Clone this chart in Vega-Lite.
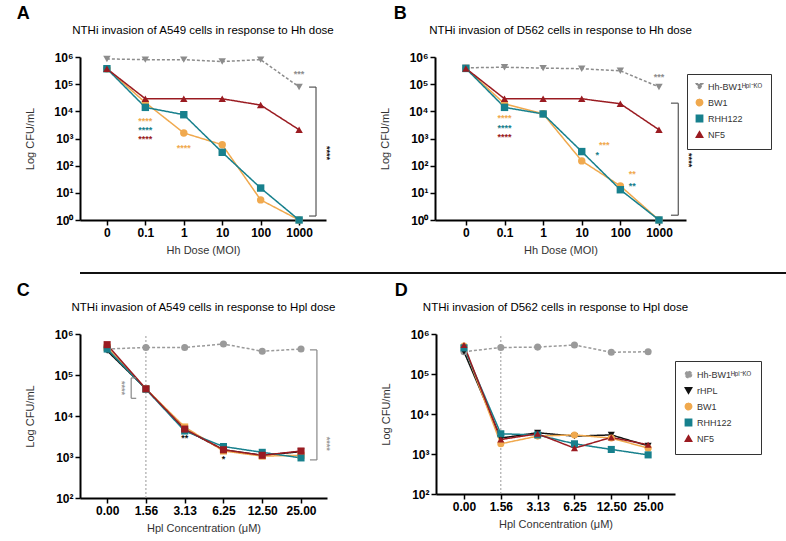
{
"$schema": "https://vega.github.io/schema/vega-lite/v6.json",
"padding": {"left": 16, "top": 4, "right": 5, "bottom": 2},
"config": {
  "view": {"stroke": null},
  "font": "Liberation Sans",
  "axis": {"domainColor": "#000", "domainWidth": 2, "tickColor": "#000", "tickWidth": 1.5, "tickSize": 5, "labelFontSize": 12, "labelFontWeight": "bold", "labelColor": "#000", "titleFontSize": 11, "titleFontWeight": "normal", "titleColor": "#333", "grid": false},
  "title": {"color": "#000"}
},
"resolve": {"scale": {"color": "independent", "shape": "independent", "strokeDash": "independent", "x": "independent", "y": "independent"}, "legend": {"color": "independent", "shape": "independent", "strokeDash": "independent"}},
"datasets": {
  "A": [
    {"s":"KO","i":0,"v":850000},{"s":"KO","i":1,"v":800000},{"s":"KO","i":2,"v":800000},{"s":"KO","i":3,"v":680000},{"s":"KO","i":4,"v":800000},{"s":"KO","i":5,"v":79000},
    {"s":"BW1","i":0,"v":370000},{"s":"BW1","i":1,"v":21000},{"s":"BW1","i":2,"v":1600},{"s":"BW1","i":3,"v":590},{"s":"BW1","i":4,"v":5.5},{"s":"BW1","i":5,"v":1},
    {"s":"RHH122","i":0,"v":370000},{"s":"RHH122","i":1,"v":14000},{"s":"RHH122","i":2,"v":7500},{"s":"RHH122","i":3,"v":310},{"s":"RHH122","i":4,"v":15},{"s":"RHH122","i":5,"v":1},
    {"s":"NF5","i":0,"v":370000},{"s":"NF5","i":1,"v":29000},{"s":"NF5","i":2,"v":29000},{"s":"NF5","i":3,"v":29000},{"s":"NF5","i":4,"v":17000},{"s":"NF5","i":5,"v":2100}
  ],
  "Astars": [
    {"t":"****","i":1,"v":4300,"s":"BW1"},{"t":"****","i":1,"v":2000,"s":"RHH122"},{"t":"****","i":1,"v":950,"s":"NF5"},
    {"t":"****","i":2,"v":450,"s":"BW1"},{"t":"***","i":5,"v":240000,"s":"KO"}
  ],
  "Arot": [{"t":"****","i":5.72,"v":290,"s":"rHPL"}],
  "Abr": [
    {"x1":5.44,"x2":5.44,"y1":78000,"y2":1.4},{"x1":5.26,"x2":5.44,"y1":78000,"y2":78000},{"x1":5.26,"x2":5.44,"y1":1.4,"y2":1.4}
  ],
  "B": [
    {"s":"KO","i":0,"v":400000},{"s":"KO","i":1,"v":420000},{"s":"KO","i":2,"v":390000},{"s":"KO","i":3,"v":370000},{"s":"KO","i":4,"v":310000},{"s":"KO","i":5,"v":79000},
    {"s":"BW1","i":0,"v":380000},{"s":"BW1","i":1,"v":19000},{"s":"BW1","i":2,"v":8100},{"s":"BW1","i":3,"v":150},{"s":"BW1","i":4,"v":18},{"s":"BW1","i":5,"v":1},
    {"s":"RHH122","i":0,"v":380000},{"s":"RHH122","i":1,"v":14000},{"s":"RHH122","i":2,"v":8000},{"s":"RHH122","i":3,"v":330},{"s":"RHH122","i":4,"v":13},{"s":"RHH122","i":5,"v":1},
    {"s":"NF5","i":0,"v":380000},{"s":"NF5","i":1,"v":29000},{"s":"NF5","i":2,"v":29000},{"s":"NF5","i":3,"v":29000},{"s":"NF5","i":4,"v":19000},{"s":"NF5","i":5,"v":2100}
  ],
  "Bstars": [
    {"t":"****","i":1,"v":5600,"s":"BW1"},{"t":"****","i":1,"v":2500,"s":"RHH122"},{"t":"****","i":1,"v":1100,"s":"NF5"},
    {"t":"***","i":3.58,"v":560,"s":"BW1"},{"t":"*","i":3.4,"v":240,"s":"RHH122"},
    {"t":"**","i":4.31,"v":48,"s":"BW1"},{"t":"**","i":4.31,"v":18,"s":"RHH122"},
    {"t":"***","i":5,"v":190000,"s":"KO"}
  ],
  "Brot": [{"t":"****","i":5.78,"v":160,"s":"rHPL"}],
  "Bbr": [
    {"x1":5.5,"x2":5.5,"y1":20000,"y2":1.5},{"x1":5.31,"x2":5.5,"y1":20000,"y2":20000},{"x1":5.31,"x2":5.5,"y1":1.5,"y2":1.5}
  ],
  "C": [
    {"s":"KO","i":0,"v":430000},{"s":"KO","i":1,"v":470000},{"s":"KO","i":2,"v":470000},{"s":"KO","i":3,"v":570000},{"s":"KO","i":4,"v":380000},{"s":"KO","i":5,"v":430000},
    {"s":"rHPL","i":0,"v":390000},{"s":"rHPL","i":1,"v":46000},{"s":"rHPL","i":2,"v":4700},{"s":"rHPL","i":3,"v":1500},{"s":"rHPL","i":4,"v":1100},{"s":"rHPL","i":5,"v":1350},
    {"s":"BW1","i":0,"v":470000},{"s":"BW1","i":1,"v":46000},{"s":"BW1","i":2,"v":5400},{"s":"BW1","i":3,"v":1400},{"s":"BW1","i":4,"v":1050},{"s":"BW1","i":5,"v":1100},
    {"s":"RHH122","i":0,"v":430000},{"s":"RHH122","i":1,"v":45000},{"s":"RHH122","i":2,"v":4300},{"s":"RHH122","i":3,"v":1800},{"s":"RHH122","i":4,"v":1300},{"s":"RHH122","i":5,"v":950},
    {"s":"NF5","i":0,"v":550000},{"s":"NF5","i":1,"v":46000},{"s":"NF5","i":2,"v":4800},{"s":"NF5","i":3,"v":1500},{"s":"NF5","i":4,"v":1100},{"s":"NF5","i":5,"v":1400}
  ],
  "Cstars": [
    {"t":"**","i":2,"v":2900,"s":"rHPL"},{"t":"*","i":3,"v":900,"s":"rHPL"}
  ],
  "Crot": [{"t":"****","i":5.68,"v":2100,"s":"KO"},{"t":"****","i":0.39,"v":48000,"s":"KO"}],
  "Cbr": [
    {"x1":5.41,"x2":5.41,"y1":410000,"y2":850},{"x1":5.23,"x2":5.41,"y1":410000,"y2":410000},{"x1":5.23,"x2":5.41,"y1":850,"y2":850},
    {"x1":0.62,"x2":0.62,"y1":85000,"y2":27000},{"x1":0.62,"x2":0.75,"y1":85000,"y2":85000},{"x1":0.62,"x2":0.75,"y1":27000,"y2":27000}
  ],
  "D": [
    {"s":"KO","i":0,"v":360000},{"s":"KO","i":1,"v":460000},{"s":"KO","i":2,"v":470000},{"s":"KO","i":3,"v":530000},{"s":"KO","i":4,"v":350000},{"s":"KO","i":5,"v":360000},
    {"s":"rHPL","i":0,"v":360000},{"s":"rHPL","i":1,"v":2500},{"s":"rHPL","i":2,"v":3400},{"s":"rHPL","i":3,"v":2800},{"s":"rHPL","i":4,"v":3000},{"s":"rHPL","i":5,"v":1600},
    {"s":"BW1","i":0,"v":500000},{"s":"BW1","i":1,"v":1800},{"s":"BW1","i":2,"v":2800},{"s":"BW1","i":3,"v":3000},{"s":"BW1","i":4,"v":2500},{"s":"BW1","i":5,"v":1400},
    {"s":"RHH122","i":0,"v":450000},{"s":"RHH122","i":1,"v":3200},{"s":"RHH122","i":2,"v":3000},{"s":"RHH122","i":3,"v":1800},{"s":"RHH122","i":4,"v":1300},{"s":"RHH122","i":5,"v":950},
    {"s":"NF5","i":0,"v":530000},{"s":"NF5","i":1,"v":2300},{"s":"NF5","i":2,"v":3200},{"s":"NF5","i":3,"v":1400},{"s":"NF5","i":4,"v":2600},{"s":"NF5","i":5,"v":1700}
  ],
  "vline": [{"x1":1,"x2":1,"y1":100,"y2":1000000}],
  "sep": [{"a":0,"b":1}]
},
"vconcat": [
  {"resolve": {"scale": {"color": "independent", "shape": "independent", "strokeDash": "independent", "x": "independent", "y": "independent"}, "legend": {"color": "independent", "shape": "independent", "strokeDash": "independent"}},
   "hconcat": [
    {"title": {"text": "A", "anchor": "start", "fontSize": 18, "fontWeight": "bold", "dx": -8, "offset": 2},
     "vconcat": [{
      "title": {"text": "NTHi invasion of A549 cells in response to Hh dose", "fontSize": 11.5, "fontWeight": "normal", "offset": 15},
      "width": 246, "height": 163,
      "encoding": {
        "x": {"field": "i", "type": "quantitative", "scale": {"domain": [-0.7, 5.7]}, "axis": {"values": [0,1,2,3,4,5], "labelExpr": "['0','0.1','1','10','100','1000'][datum.value]", "title": "Hh Dose (MOI)", "titlePadding": 6}},
        "y": {"field": "v", "type": "quantitative", "scale": {"type": "log", "domain": [1, 1000000], "nice": false}, "axis": {"values": [1,10,100,1000,10000,100000,1000000], "labelExpr": "'10' + ['⁰','¹','²','³','⁴','⁵','⁶'][round(log(datum.value)/LN10)]", "title": "Log CFU/mL", "titlePadding": 18}}
      },
      "layer": [
        {"data": {"name": "A"}, "mark": {"type": "line", "strokeWidth": 1.5},
         "encoding": {"color": {"field": "s", "type": "nominal", "scale": {"domain": ["KO","rHPL","BW1","RHH122","NF5"], "range": ["#8c8c8c","#111111","#f0a94e","#17808d","#9a1b21"]}, "legend": null},
                      "strokeDash": {"field": "s", "type": "nominal", "scale": {"domain": ["KO","rHPL","BW1","RHH122","NF5"], "range": [[3,2],[1,0],[1,0],[1,0],[1,0]]}, "legend": null}}},
        {"data": {"name": "A"}, "mark": {"type": "point", "filled": true, "size": 55, "opacity": 1},
         "encoding": {"color": {"field": "s", "type": "nominal", "scale": {"domain": ["KO","rHPL","BW1","RHH122","NF5"], "range": ["#8c8c8c","#111111","#f0a94e","#17808d","#9a1b21"]}, "legend": null},
                      "shape": {"field": "s", "type": "nominal", "scale": {"domain": ["KO","rHPL","BW1","RHH122","NF5"], "range": ["triangle-down","triangle-down","circle","square","triangle-up"]}, "legend": null}}},
        {"data": {"name": "Astars"}, "mark": {"type": "text", "fontSize": 9, "fontWeight": "bold", "baseline": "middle", "letterSpacing": 1.5},
         "encoding": {"text": {"field": "t"}, "color": {"field": "s", "type": "nominal", "scale": {"domain": ["KO","rHPL","BW1","RHH122","NF5"], "range": ["#8c8c8c","#111111","#f0a94e","#17808d","#9a1b21"]}, "legend": null}}},
        {"data": {"name": "Arot"}, "mark": {"type": "text", "fontSize": 9, "fontWeight": "bold", "baseline": "middle", "angle": 90, "letterSpacing": 1.5},
         "encoding": {"text": {"field": "t"}, "color": {"field": "s", "type": "nominal", "scale": {"domain": ["KO","rHPL","BW1","RHH122","NF5"], "range": ["#8c8c8c","#111111","#f0a94e","#17808d","#9a1b21"]}, "legend": null}}},
        {"data": {"name": "Abr"}, "mark": {"type": "rule", "color": "#555", "strokeWidth": 1.2},
         "encoding": {"x": {"field": "x1", "type": "quantitative"}, "x2": {"field": "x2"}, "y": {"field": "y1", "type": "quantitative"}, "y2": {"field": "y2"}}}
      ]
    }]},
    {"title": {"text": "B", "anchor": "start", "fontSize": 18, "fontWeight": "bold", "dx": 14, "offset": 2},
     "vconcat": [{
      "title": {"text": "NTHi invasion of D562 cells in response to Hh dose", "fontSize": 11.5, "fontWeight": "normal", "offset": 15},
      "width": 251, "height": 163,
      "encoding": {
        "x": {"field": "i", "type": "quantitative", "scale": {"domain": [-0.8, 5.7]}, "axis": {"values": [0,1,2,3,4,5], "labelExpr": "['0','0.1','1','10','100','1000'][datum.value]", "title": "Hh Dose (MOI)", "titlePadding": 6}},
        "y": {"field": "v", "type": "quantitative", "scale": {"type": "log", "domain": [1, 1000000], "nice": false}, "axis": {"values": [1,10,100,1000,10000,100000,1000000], "labelExpr": "'10' + ['⁰','¹','²','³','⁴','⁵','⁶'][round(log(datum.value)/LN10)]", "title": "Log CFU/mL", "titlePadding": 18}}
      },
      "layer": [
        {"data": {"name": "B"}, "mark": {"type": "line", "strokeWidth": 1.5},
         "encoding": {"color": {"field": "s", "type": "nominal", "scale": {"domain": ["KO","rHPL","BW1","RHH122","NF5"], "range": ["#8c8c8c","#111111","#f0a94e","#17808d","#9a1b21"]}},
                      "strokeDash": {"field": "s", "type": "nominal", "scale": {"domain": ["KO","rHPL","BW1","RHH122","NF5"], "range": [[3,2],[1,0],[1,0],[1,0],[1,0]]}, "legend": null}}},
        {"data": {"name": "B"}, "mark": {"type": "point", "filled": true, "size": 55, "opacity": 1},
         "encoding": {"color": {"field": "s", "type": "nominal", "legend": {"title": null, "orient": "none", "legendX": 252, "legendY": 17, "strokeColor": "#333", "padding": 8, "labelFontSize": 9, "labelColor": "#333", "symbolSize": 40, "rowPadding": 3, "values": ["KO","BW1","RHH122","NF5"], "labelExpr": "datum.label == 'KO' ? 'Hh-BW1ᴴᵖˡ⁻ᴷᴼ' : datum.label"}},
                      "shape": {"field": "s", "type": "nominal", "scale": {"domain": ["KO","rHPL","BW1","RHH122","NF5"], "range": ["triangle-down","triangle-down","circle","square","triangle-up"]}, "legend": {"title": null, "orient": "none", "legendX": 252, "legendY": 17, "strokeColor": "#333", "padding": 8, "labelFontSize": 9, "labelColor": "#333", "symbolSize": 40, "rowPadding": 3, "values": ["KO","BW1","RHH122","NF5"], "labelExpr": "datum.label == 'KO' ? 'Hh-BW1ᴴᵖˡ⁻ᴷᴼ' : datum.label"}}}},
        {"data": {"name": "Bstars"}, "mark": {"type": "text", "fontSize": 9, "fontWeight": "bold", "baseline": "middle", "letterSpacing": 1.5},
         "encoding": {"text": {"field": "t"}, "color": {"field": "s", "type": "nominal", "scale": {"domain": ["KO","rHPL","BW1","RHH122","NF5"], "range": ["#8c8c8c","#111111","#f0a94e","#17808d","#9a1b21"]}}}},
        {"data": {"name": "Brot"}, "mark": {"type": "text", "fontSize": 9, "fontWeight": "bold", "baseline": "middle", "angle": 90, "letterSpacing": 1.5},
         "encoding": {"text": {"field": "t"}, "color": {"field": "s", "type": "nominal", "scale": {"domain": ["KO","rHPL","BW1","RHH122","NF5"], "range": ["#8c8c8c","#111111","#f0a94e","#17808d","#9a1b21"]}}}},
        {"data": {"name": "Bbr"}, "mark": {"type": "rule", "color": "#555", "strokeWidth": 1.2},
         "encoding": {"x": {"field": "x1", "type": "quantitative"}, "x2": {"field": "x2"}, "y": {"field": "y1", "type": "quantitative"}, "y2": {"field": "y2"}}}
      ]
    }]}
  ], "spacing": 44},
  {"width": 744, "height": 11, "data": {"name": "sep"}, "mark": {"type": "rule", "color": "#111", "strokeWidth": 2},
   "encoding": {"x": {"field": "a", "type": "quantitative", "scale": {"domain": [0, 1]}, "axis": null}, "x2": {"field": "b"}, "y": {"datum": 0, "type": "quantitative", "scale": {"domain": [0, 1]}, "axis": null}}},
  {"resolve": {"scale": {"color": "independent", "shape": "independent", "strokeDash": "independent", "x": "independent", "y": "independent"}, "legend": {"color": "independent", "shape": "independent", "strokeDash": "independent"}},
   "hconcat": [
    {"title": {"text": "C", "anchor": "start", "fontSize": 18, "fontWeight": "bold", "dx": -8, "offset": 2},
     "vconcat": [{
      "title": {"text": "NTHi invasion of A549 cells in response to Hpl dose", "fontSize": 11.5, "fontWeight": "normal", "offset": 15},
      "width": 247, "height": 164,
      "encoding": {
        "x": {"field": "i", "type": "quantitative", "scale": {"domain": [-0.7, 5.67]}, "axis": {"values": [0,1,2,3,4,5], "labelExpr": "['0.00','1.56','3.13','6.25','12.50','25.00'][datum.value]", "title": "Hpl Concentration (μM)", "titlePadding": 6}},
        "y": {"field": "v", "type": "quantitative", "scale": {"type": "log", "domain": [100, 1000000], "nice": false}, "axis": {"values": [100,1000,10000,100000,1000000], "labelExpr": "'10' + ['⁰','¹','²','³','⁴','⁵','⁶'][round(log(datum.value)/LN10)]", "title": "Log CFU/mL", "titlePadding": 18}}
      },
      "layer": [
        {"data": {"name": "vline"}, "mark": {"type": "rule", "color": "#999", "strokeWidth": 1, "strokeDash": [2,2]},
         "encoding": {"x": {"field": "x1", "type": "quantitative"}, "x2": {"field": "x2"}, "y": {"field": "y1", "type": "quantitative"}, "y2": {"field": "y2"}}},
        {"data": {"name": "C"}, "mark": {"type": "line", "strokeWidth": 1.5},
         "encoding": {"color": {"field": "s", "type": "nominal", "scale": {"domain": ["KO","rHPL","BW1","RHH122","NF5"], "range": ["#9a9a9a","#111111","#f0a94e","#17808d","#9a1b21"]}, "legend": null},
                      "strokeDash": {"field": "s", "type": "nominal", "scale": {"domain": ["KO","rHPL","BW1","RHH122","NF5"], "range": [[3,2],[1,0],[1,0],[1,0],[1,0]]}, "legend": null}}},
        {"data": {"name": "C"}, "mark": {"type": "point", "filled": true, "size": 50, "opacity": 1},
         "encoding": {"color": {"field": "s", "type": "nominal", "scale": {"domain": ["KO","rHPL","BW1","RHH122","NF5"], "range": ["#9a9a9a","#111111","#f0a94e","#17808d","#9a1b21"]}, "legend": null},
                      "shape": {"field": "s", "type": "nominal", "scale": {"domain": ["KO","rHPL","BW1","RHH122","NF5"], "range": ["circle","triangle-down","square","square","square"]}, "legend": null}}},
        {"data": {"name": "Cstars"}, "mark": {"type": "text", "fontSize": 9, "fontWeight": "bold", "baseline": "middle", "letterSpacing": 1.5},
         "encoding": {"text": {"field": "t"}, "color": {"field": "s", "type": "nominal", "scale": {"domain": ["KO","rHPL","BW1","RHH122","NF5"], "range": ["#9a9a9a","#111111","#f0a94e","#17808d","#9a1b21"]}, "legend": null}}},
        {"data": {"name": "Crot"}, "mark": {"type": "text", "fontSize": 9, "fontWeight": "bold", "baseline": "middle", "angle": 90, "letterSpacing": 1.5},
         "encoding": {"text": {"field": "t"}, "color": {"field": "s", "type": "nominal", "scale": {"domain": ["KO","rHPL","BW1","RHH122","NF5"], "range": ["#9a9a9a","#111111","#f0a94e","#17808d","#9a1b21"]}, "legend": null}}},
        {"data": {"name": "Cbr"}, "mark": {"type": "rule", "color": "#888", "strokeWidth": 1.2},
         "encoding": {"x": {"field": "x1", "type": "quantitative"}, "x2": {"field": "x2"}, "y": {"field": "y1", "type": "quantitative"}, "y2": {"field": "y2"}}}
      ]
    }]},
    {"title": {"text": "D", "anchor": "start", "fontSize": 18, "fontWeight": "bold", "dx": 14, "offset": 2},
     "vconcat": [{
      "title": {"text": "NTHi invasion of D562 cells in response to Hpl dose", "fontSize": 11.5, "fontWeight": "normal", "offset": 15},
      "width": 239, "height": 160,
      "encoding": {
        "x": {"field": "i", "type": "quantitative", "scale": {"domain": [-0.76, 5.73]}, "axis": {"values": [0,1,2,3,4,5], "labelExpr": "['0.00','1.56','3.13','6.25','12.50','25.00'][datum.value]", "title": "Hpl Concentration (μM)", "titlePadding": 6}},
        "y": {"field": "v", "type": "quantitative", "scale": {"type": "log", "domain": [100, 1000000], "nice": false}, "axis": {"values": [100,1000,10000,100000,1000000], "labelExpr": "'10' + ['⁰','¹','²','³','⁴','⁵','⁶'][round(log(datum.value)/LN10)]", "title": "Log CFU/mL", "titlePadding": 18}}
      },
      "layer": [
        {"data": {"name": "vline"}, "mark": {"type": "rule", "color": "#999", "strokeWidth": 1, "strokeDash": [2,2]},
         "encoding": {"x": {"field": "x1", "type": "quantitative"}, "x2": {"field": "x2"}, "y": {"field": "y1", "type": "quantitative"}, "y2": {"field": "y2"}}},
        {"data": {"name": "D"}, "mark": {"type": "line", "strokeWidth": 1.5},
         "encoding": {"color": {"field": "s", "type": "nominal", "scale": {"domain": ["KO","rHPL","BW1","RHH122","NF5"], "range": ["#9a9a9a","#111111","#f0a94e","#17808d","#9a1b21"]}},
                      "strokeDash": {"field": "s", "type": "nominal", "scale": {"domain": ["KO","rHPL","BW1","RHH122","NF5"], "range": [[3,2],[1,0],[1,0],[1,0],[1,0]]}, "legend": null}}},
        {"data": {"name": "D"}, "mark": {"type": "point", "filled": true, "size": 50, "opacity": 1},
         "encoding": {"color": {"field": "s", "type": "nominal", "legend": {"title": null, "orient": "none", "legendX": 239, "legendY": 27, "strokeColor": "#333", "padding": 9, "labelFontSize": 9, "labelColor": "#333", "symbolSize": 40, "rowPadding": 3, "labelExpr": "datum.label == 'KO' ? 'Hh-BW1ᴴᵖˡ⁻ᴷᴼ' : datum.label"}},
                      "shape": {"field": "s", "type": "nominal", "scale": {"domain": ["KO","rHPL","BW1","RHH122","NF5"], "range": ["circle","triangle-down","circle","square","triangle-up"]}, "legend": {"title": null, "orient": "none", "legendX": 239, "legendY": 27, "strokeColor": "#333", "padding": 9, "labelFontSize": 9, "labelColor": "#333", "symbolSize": 40, "rowPadding": 3, "labelExpr": "datum.label == 'KO' ? 'Hh-BW1ᴴᵖˡ⁻ᴷᴼ' : datum.label"}}}}
      ]
    }]}
  ], "spacing": 44}
], "spacing": 7
}
